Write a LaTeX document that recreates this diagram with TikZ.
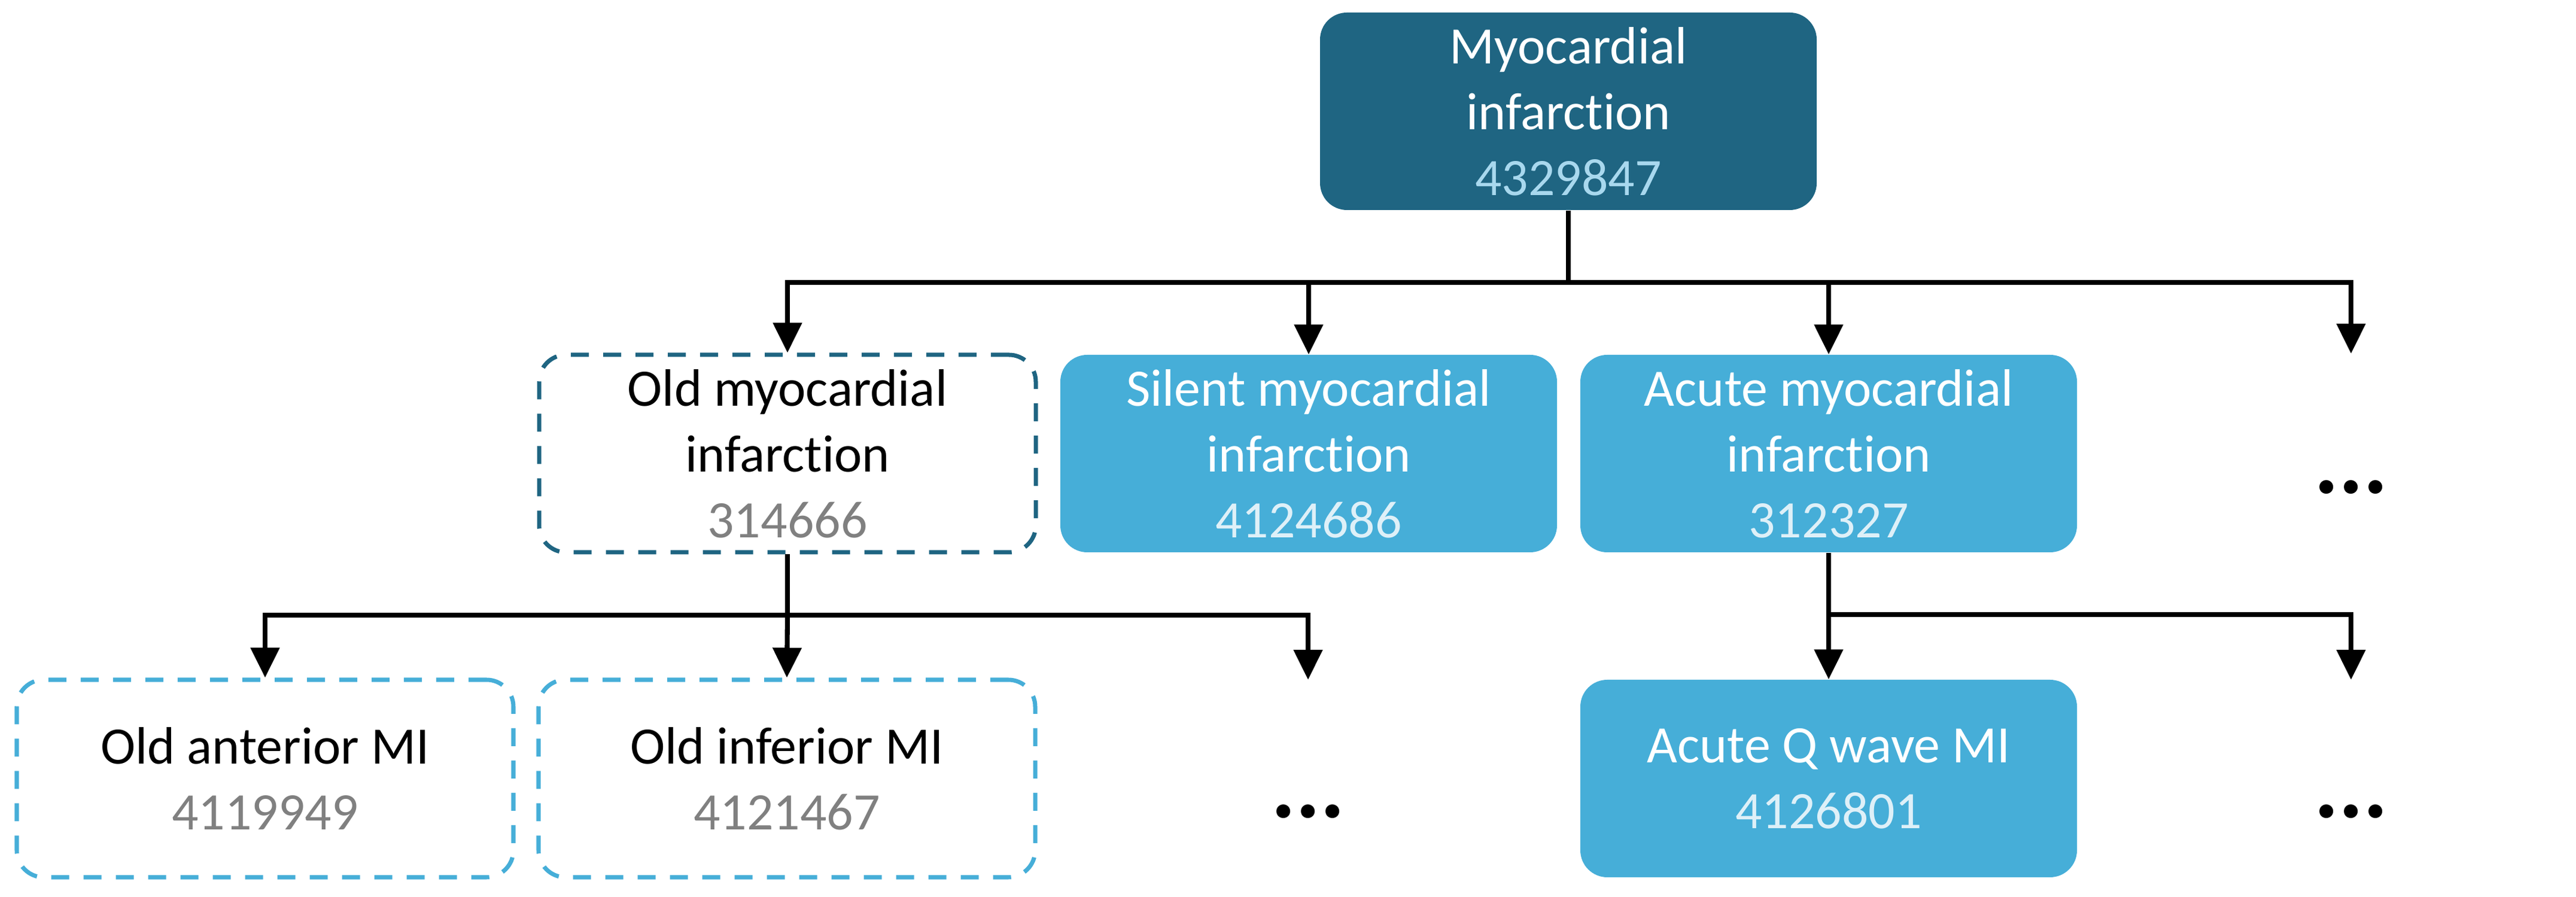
\documentclass[tikz,border=0pt]{standalone}
\usepackage{fontspec}
\setmainfont{Carlito}[Ligatures={NoCommon,NoRare,NoContextual}]
\usepackage{xcolor}
\usetikzlibrary{arrows.meta}

\definecolor{mitop}{RGB}{31,101,130}
\definecolor{milight}{RGB}{70,174,216}
\definecolor{idtop}{RGB}{168,216,238}
\definecolor{idlight}{RGB}{222,240,248}
\definecolor{idgray}{RGB}{128,128,128}

\begin{document}
\begin{tikzpicture}[
        box/.style={rounded corners=0.45cm, minimum width=8.3cm, minimum height=3.3cm, inner sep=0pt, align=center, font=\fontsize{25}{31.3}\selectfont},
        topbox/.style={box, fill=mitop, text=white},
        fillbox/.style={box, fill=milight, text=white},
        dashbox/.style={box, draw=#1, line width=2pt, dash pattern=on 0.3cm off 0.24cm},
        more/.style={inner sep=0pt, font=\fontsize{44}{50}\selectfont\bfseries},
        link/.style={line width=2.3pt},
        arr/.style={line width=2.3pt, -{Triangle[length=0.5cm,width=0.47cm]}}
    ]
        \useasboundingbox (0,0) rectangle (43.05,14.99);

        % concepts
        \node[topbox] (mi) at(26.21,13.13) {Myocardial\\infarction\\{\color{idtop}4329847}};
        \node[dashbox=mitop] (old) at(13.16,7.41) {Old myocardial\\infarction\\{\color{idgray}314666}};
        \node[fillbox] (silent) at(21.87,7.41) {Silent myocardial\\infarction\\{\color{idlight}4124686}};
        \node[fillbox] (acute) at(30.56,7.41) {Acute myocardial\\infarction\\{\color{idlight}312327}};
        \node[dashbox=milight] (oldant) at(4.43,1.98) {Old anterior MI\\{\color{idgray}4119949}};
        \node[dashbox=milight] (oldinf) at(13.15,1.98) {Old inferior MI\\{\color{idgray}4121467}};
        \node[fillbox] (acuteq) at(30.56,1.98) {Acute Q wave MI\\{\color{idlight}4126801}};
        \node[more] (more1) at(39.29,6.85) {...};
        \node[more] (more2) at(21.86,1.43) {...};
        \node[more] (more3) at(39.29,1.43) {...};

        % branch points
        \coordinate (bus1) at(26.21,10.27);
        \coordinate (bus2) at(13.16,4.71);
        \coordinate (bus3) at(30.56,4.72);
        \coordinate (end1) at(39.29,9.08);
        \coordinate (end2) at(21.86,3.63);
        \coordinate (end3) at(39.29,3.63);

        \draw[link] (mi.south)--(bus1);
        \draw[arr] (bus1)-|(old.north);
        \draw[arr] (bus1)-|(silent.north);
        \draw[arr] (bus1)-|(acute.north);
        \draw[arr] (bus1)-|(end1);

        \draw[link] (old.south)--(bus2);
        \draw[arr] (bus2)-|(oldant.north);
        \draw[arr] (bus2)--(oldinf.north);
        \draw[arr] (bus2)-|(end2);

        \draw[link] (acute.south)--(bus3);
        \draw[arr] (bus3)--(acuteq.north);
        \draw[arr] (bus3)-|(end3);
    \end{tikzpicture}
\end{document}
